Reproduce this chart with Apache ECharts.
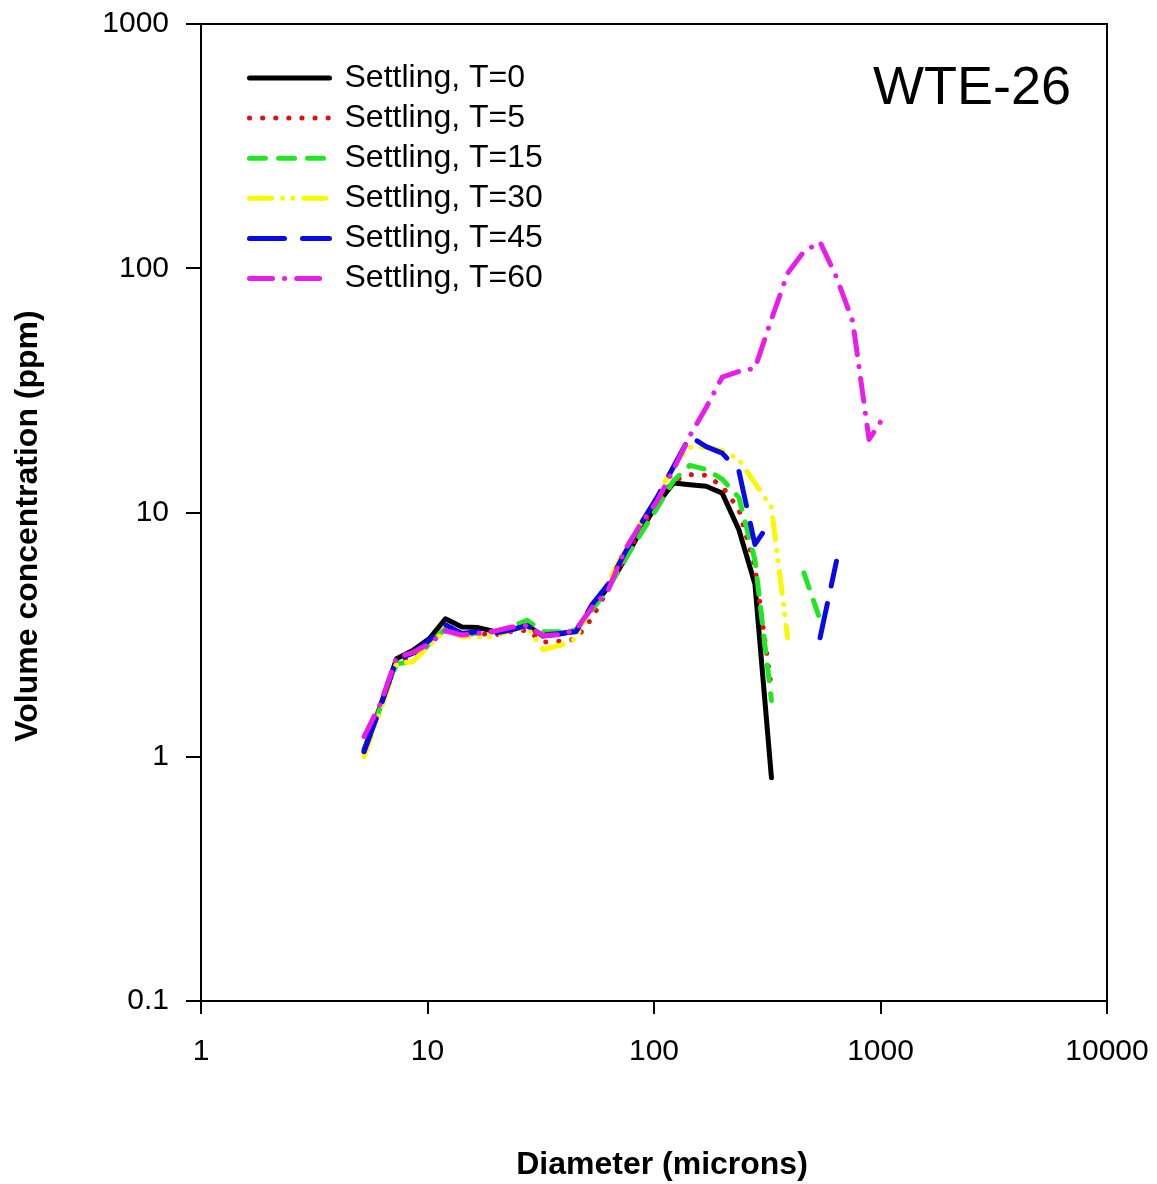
<!DOCTYPE html>
<html>
<head>
<meta charset="utf-8">
<title>WTE-26 settling</title>
<script src="https://cdn.jsdelivr.net/npm/echarts@6/dist/echarts.min.js"></script>
<style>
  html, body { margin: 0; padding: 0; background: #fff; }
  #chart { width: 1157px; height: 1184px; }
</style>
</head>
<body>
<div id="chart"></div>
<script>
// Particle size bins (microns), log-spaced
const diameters = [5.25, 6.2, 7.3, 8.6, 10.2, 12.0, 14.2, 16.7, 19.7, 23.3, 27.5, 32.4, 38.3, 45.2,
  53.3, 62.9, 74.2, 87.6, 103, 122, 144, 170, 200, 237, 279, 330, 389, 459, 541, 639, 754, 890, 1050];

// Volume concentration (ppm) per bin for each settling time; null = no data
const settlingT0 = [1.07, 1.62, 2.52, 2.72, 3.05, 3.67, 3.40, 3.38, 3.26, 3.30, 3.45, 3.12, 3.18, 3.28,
  4.10, 4.95, 6.40, 8.45, 10.8, 13.2, 13.0, 12.8, 12.0, 8.5, 5.1, 0.82,
  null, null, null, null, null, null, null];
const settlingT5 = [1.05, 1.6, 2.45, 2.55, 2.9, 3.35, 3.15, 3.2, 3.15, 3.25, 3.3, 2.95, 2.97, 3.03,
  3.7, 4.9, 6.5, 8.6, 11.0, 13.5, 14.3, 14.2, 12.8, 10.3, 6.0, 1.9,
  null, null, null, null, null, null, null];
const settlingT15 = [1.05, 1.6, 2.4, 2.45, 2.9, 3.35, 3.2, 3.2, 3.25, 3.4, 3.62, 3.25, 3.25, 3.3,
  4.0, 4.9, 6.4, 8.2, 10.4, 13.5, 15.6, 15.0, 13.7, 11.5, 6.4, 1.7,
  null, 5.66, 3.64, null, null, null, null];
const settlingT30 = [1.0, 1.55, 2.4, 2.45, 2.85, 3.3, 3.1, 3.1, 3.1, 3.3, 3.4, 2.75, 2.85, 3.05,
  4.2, 5.2, 7.0, 9.1, 11.6, 15.5, 18.5, 18.5, 17.9, 16.5, 13.2, 10.5, 3.07,
  null, null, null, null, null, null];
const settlingT45 = [1.05, 1.6, 2.5, 2.65, 3.0, 3.47, 3.2, 3.25, 3.2, 3.3, 3.45, 3.15, 3.2, 3.25,
  4.2, 5.1, 6.8, 9.0, 11.5, 15.4, 20.5, 18.6, 17.5, 14.8, 7.4, 9.3,
  null, null, 3.07, 6.32, null, null, null];
const settlingT60 = [1.21, 1.65, 2.55, 2.67, 2.9, 3.28, 3.15, 3.2, 3.26, 3.39, 3.45, 3.13, 3.16, 3.31,
  4.08, 4.83, 7.0, 9.0, 11.1, 15.0, 20.6, 26.9, 35.8, 37.8, 38.9, 61.8, 95.4, 117, 128, 92, 60.6, 19.9, 25.2];

const seriesNames = ['Settling, T=0', 'Settling, T=5', 'Settling, T=15', 'Settling, T=30', 'Settling, T=45', 'Settling, T=60'];
const seriesValues = [settlingT0, settlingT5, settlingT15, settlingT30, settlingT45, settlingT60];

// Axis tick labels, indexed by decade exponent
const xTickLabels = { 0: '1', 1: '10', 2: '100', 3: '1000', 4: '10000' };
const yTickLabels = { '-1': '0.1', 0: '1', 1: '10', 2: '100', 3: '1000' };

const FONT = "'Liberation Sans', Arial, Helvetica, sans-serif";

const lineStyles = [
  { color: '#000000', width: 5, type: 'solid' },
  { color: '#e01010', width: 5, type: [0.1, 13] },
  { color: '#22e622', width: 5, type: [16, 13] },
  { color: '#f8f800', width: 5, type: [22, 11, 0.1, 10, 0.1, 11] },
  { color: '#0a0ae6', width: 5, type: [35, 18] },
  { color: '#e81ee8', width: 5, type: [23, 12, 0.1, 12] }
];

const series = seriesNames.map((name, i) => ({
  name: name,
  type: 'line',
  symbol: 'none',
  showSymbol: false,
  connectNulls: false,
  animation: false,
  color: lineStyles[i].color,
  lineStyle: Object.assign({ cap: 'round', join: 'round' }, lineStyles[i]),
  data: diameters.map((d, k) => [d, seriesValues[i][k] == null ? '-' : seriesValues[i][k]])
}));

const decade = v => Math.round(Math.log10(v));

const chart = echarts.init(document.getElementById('chart'), null, { renderer: 'canvas' });
chart.setOption({
  animation: false,
  backgroundColor: '#ffffff',
  grid: {
    left: 201, right: 50, top: 24, bottom: 183,
    show: true, borderColor: '#000', borderWidth: 2, backgroundColor: 'transparent'
  },
  legend: {
    orient: 'vertical',
    left: 247, top: 62, padding: 0,
    itemWidth: 80, itemHeight: 14, itemGap: 8.1,
    itemStyle: { opacity: 0, borderWidth: 0 },
    lineStyle: { width: 5, type: 'inherit', cap: 'round' },
    textStyle: { fontFamily: FONT, fontSize: 32, color: '#000', padding: [0, 0, 0, 10] },
    data: seriesNames
  },
  xAxis: {
    type: 'log', logBase: 10, min: 1, max: 10000,
    axisLine: { show: true, lineStyle: { color: '#000', width: 2 } },
    axisTick: { show: true, inside: false, length: 13, lineStyle: { color: '#000', width: 2 } },
    minorTick: { show: false },
    splitLine: { show: false },
    axisLabel: {
      margin: 36, fontFamily: FONT, fontSize: 30, color: '#000',
      formatter: v => xTickLabels[decade(v)]
    }
  },
  yAxis: {
    type: 'log', logBase: 10, min: 0.1, max: 1000,
    axisLine: { show: true, lineStyle: { color: '#000', width: 2 } },
    axisTick: { show: true, inside: false, length: 15, lineStyle: { color: '#000', width: 2 } },
    minorTick: { show: false },
    splitLine: { show: false },
    axisLabel: {
      margin: 32, fontFamily: FONT, fontSize: 30, color: '#000',
      formatter: v => yTickLabels[decade(v)]
    }
  },
  graphic: [
    {
      type: 'text', left: 873, top: 62,
      style: { text: 'WTE-26', font: "54px " + FONT, fill: '#000' }
    },
    {
      type: 'text', x: 662, y: 1165,
      style: { text: 'Diameter (microns)', font: "bold 32px " + FONT, fill: '#000', align: 'center', verticalAlign: 'middle' }
    },
    {
      type: 'text', x: 28, y: 526, rotation: Math.PI / 2,
      style: { text: 'Volume concentration (ppm)', font: "bold 32px " + FONT, fill: '#000', align: 'center', verticalAlign: 'middle' }
    }
  ],
  series: series
});
</script>
</body>
</html>
